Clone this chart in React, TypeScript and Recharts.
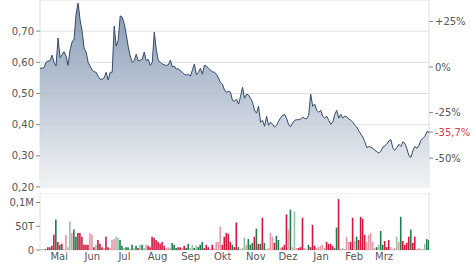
import React from 'react';
import { AreaChart, Area, BarChart, Bar, Cell, XAxis, YAxis, CartesianGrid } from 'recharts';

// ---- data ----
const monthLabels = ['Mai', 'Jun', 'Jul', 'Aug', 'Sep', 'Okt', 'Nov', 'Dez', 'Jan', 'Feb', 'Mrz'];
// days after series start (27 Apr) of the 15th of each month
const monthLabelDays = [18, 49, 79, 110, 141, 171, 202, 232, 263, 294, 322];
// days after series start of the 1st of each month
const monthStartDays = [35, 65, 96, 127, 157, 188, 218, 249, 280, 308, 339];
const spanDays = 364;

const basePrice = 0.585;
const priceTicks = [0.2, 0.3, 0.4, 0.5, 0.6, 0.7];
const volumeTicks = [0, 50, 100]; // thousands

const prices = [
  0.581, 0.581, 0.583, 0.600, 0.604, 0.605, 0.623, 0.600, 0.588, 0.678,
  0.615, 0.625, 0.634, 0.620, 0.590, 0.640, 0.665, 0.675, 0.755, 0.790,
  0.736, 0.700, 0.645, 0.633, 0.600, 0.588, 0.575, 0.570, 0.568, 0.555,
  0.546, 0.546, 0.550, 0.568, 0.543, 0.568, 0.568, 0.716, 0.652, 0.671,
  0.749, 0.745, 0.725, 0.690, 0.650, 0.620, 0.600, 0.605, 0.626, 0.604,
  0.607, 0.610, 0.633, 0.605, 0.610, 0.590, 0.600, 0.697, 0.640, 0.605,
  0.600, 0.595, 0.592, 0.590, 0.592, 0.607, 0.585, 0.588, 0.578, 0.580,
  0.572, 0.568, 0.562, 0.559, 0.562, 0.556, 0.575, 0.595, 0.560, 0.568,
  0.581, 0.562, 0.591, 0.588, 0.581, 0.575, 0.570, 0.568, 0.562, 0.550,
  0.535, 0.530, 0.511, 0.504, 0.507, 0.504, 0.478, 0.475, 0.482, 0.466,
  0.490, 0.520, 0.485, 0.498, 0.495, 0.485, 0.472, 0.446, 0.437, 0.459,
  0.408, 0.414, 0.395, 0.427, 0.398, 0.408, 0.401, 0.392, 0.398, 0.411,
  0.422, 0.430, 0.433, 0.420, 0.400, 0.394, 0.405, 0.414, 0.416, 0.416,
  0.418, 0.424, 0.420, 0.419, 0.430, 0.498, 0.459, 0.466, 0.446, 0.440,
  0.446, 0.427, 0.421, 0.427, 0.414, 0.401, 0.408, 0.433, 0.446, 0.421,
  0.433, 0.421, 0.428, 0.425, 0.418, 0.414, 0.408, 0.398, 0.392, 0.380,
  0.370, 0.360, 0.345, 0.326, 0.330, 0.327, 0.324, 0.318, 0.313, 0.309,
  0.315, 0.328, 0.332, 0.338, 0.348, 0.352, 0.324, 0.318, 0.327, 0.337,
  0.330, 0.345, 0.340, 0.322, 0.300, 0.295, 0.318, 0.330, 0.324, 0.334,
  0.350, 0.356, 0.363, 0.378, 0.376,
];

// volume in thousands
const volumes = [
  2, 2, 2, 2, 6, 6, 9, 32, 64, 17,
  11, 13, 2, 32, 6, 60, 36, 43, 28, 36,
  36, 28, 11, 11, 11, 36, 32, 6, 11, 21,
  13, 6, 4, 28, 6, 4, 21, 23, 28, 26,
  21, 9, 4, 6, 6, 2, 11, 4, 9, 4,
  11, 11, 4, 11, 9, 6, 28, 26, 21, 17,
  13, 17, 9, 4, 6, 4, 15, 11, 4, 6,
  6, 4, 9, 4, 13, 4, 11, 4, 9, 6,
  11, 17, 4, 11, 6, 2, 11, 4, 17, 17,
  49, 11, 28, 36, 34, 17, 11, 6, 58, 6,
  2, 4, 26, 11, 23, 11, 15, 28, 45, 13,
  13, 68, 15, 2, 4, 36, 28, 15, 30, 21,
  4, 6, 11, 75, 43, 85, 6, 81, 4, 4,
  6, 68, 4, 2, 11, 6, 53, 9, 4, 6,
  9, 11, 4, 17, 13, 13, 9, 4, 47, 107,
  2, 4, 2, 28, 17, 17, 68, 19, 28, 21,
  70, 66, 32, 17, 32, 36, 17, 4, 6, 11,
  40, 11, 19, 6, 21, 6, 2, 4, 28, 17,
  70, 19, 11, 15, 28, 43, 15, 28, 2, 4,
  2, 2, 13, 23, 21,
];

// r = down, g = up, lr / lg = lighter variants
const volumeKinds = [
  'lg', 'lr', 'lr', 'g', 'r', 'g', 'r', 'r', 'g', 'r',
  'g', 'r', 'lr', 'lr', 'lg', 'lg', 'lr', 'g', 'g', 'r',
  'r', 'r', 'r', 'r', 'r', 'lr', 'lr', 'r', 'lg', 'r',
  'r', 'r', 'lr', 'r', 'r', 'lr', 'lr', 'lr', 'lg', 'lg',
  'g', 'g', 'lg', 'g', 'g', 'lg', 'g', 'lg', 'g', 'r',
  'lg', 'g', 'lg', 'lr', 'r', 'r', 'r', 'r', 'r', 'r',
  'r', 'r', 'r', 'lr', 'lr', 'lg', 'g', 'g', 'g', 'r',
  'r', 'lr', 'r', 'g', 'g', 'lg', 'lg', 'g', 'lg', 'g',
  'g', 'g', 'r', 'r', 'r', 'lr', 'r', 'lr', 'lr', 'lr',
  'lr', 'r', 'r', 'r', 'r', 'r', 'g', 'r', 'r', 'g',
  'lr', 'lg', 'lg', 'lr', 'g', 'g', 'g', 'r', 'g', 'r',
  'g', 'r', 'g', 'lr', 'lr', 'lr', 'lr', 'r', 'g', 'g',
  'lr', 'r', 'r', 'r', 'lr', 'g', 'lr', 'lg', 'lr', 'r',
  'r', 'r', 'lr', 'lg', 'g', 'r', 'r', 'r', 'lr', 'lr',
  'lr', 'lr', 'lr', 'r', 'r', 'r', 'r', 'g', 'g', 'r',
  'lr', 'lg', 'lr', 'lr', 'lr', 'r', 'r', 'lr', 'g', 'r',
  'r', 'r', 'r', 'lr', 'lr', 'lr', 'lr', 'lr', 'g', 'lg',
  'g', 'g', 'r', 'r', 'r', 'lr', 'lr', 'lr', 'lg', 'lr',
  'g', 'r', 'r', 'r', 'r', 'g', 'r', 'r', 'lr', 'lr',
  'lr', 'lg', 'lg', 'g', 'g',
];

// ---- styling ----
const VOL_COLORS: Record<string, string> = {
  r: '#d4163e',
  g: '#1f7d4b',
  lr: '#e697a5',
  lg: '#8fc5a4',
};
const FONT = 'DejaVu Sans';
const TEXT = '#555';
const GRID = '#e0e0e0';
const RED = '#dc3a52';

const N = prices.length;
const data = prices.map((p, i) => ({
  t: (i * spanDays) / (N - 1),
  p,
  v: volumes[i],
  k: volumeKinds[i],
}));

const lastPct = Math.round((prices[N - 1] / basePrice - 1) * 1000) / 10;
const pctTicks = [25, 0, -25, lastPct, -50];
const pctDomain = [
  (priceTicks[0] / basePrice - 1) * 100,
  ((priceTicks[0] + 0.6) / basePrice - 1) * 100,
];
const gridXTicks = [0, ...monthStartDays, spanDays];

const tickStyle = { fontSize: 10, fontFamily: FONT, fill: TEXT };

const PctTick = (props: any) => {
  const { x, y, payload } = props;
  const v = payload.value as number;
  const cur = Math.abs(v - lastPct) < 1e-9;
  const label = (v > 0 ? '+' : '') + String(v).replace('.', ',') + '%';
  return (
    <text x={x} y={y} dy="0.355em" textAnchor="start" fontSize={10} fontFamily={FONT} fill={cur ? RED : TEXT}>
      {label}
    </text>
  );
};

const fmtPrice = (v: number) => v.toFixed(2).replace('.', ',');
const fmtVol = (v: number) => (v === 0 ? '0' : v >= 100 ? String(v / 1000).replace('.', ',') + 'M' : v + 'T');
const fmtMonth = (d: number) => monthLabels[monthLabelDays.indexOf(d)] ?? '';

export default function App() {
  return (
    <div style={{ position: 'absolute', left: 0, top: 0, width: 474, height: 269, background: '#fff' }}>
      <div style={{ position: 'absolute', left: 0, top: 0 }}>
        <AreaChart width={474} height={193} data={data} margin={{ top: 0, right: 0, bottom: 6, left: 0 }}>
          <defs>
            <linearGradient id="priceFill" x1="0" y1="0" x2="0" y2="1">
              <stop offset="0%" stopColor="#738aa8" />
              <stop offset="100%" stopColor="#eef1f4" />
            </linearGradient>
          </defs>
          <CartesianGrid xAxisId="g" yAxisId="left" stroke={GRID} strokeWidth={1} />
          <XAxis
            xAxisId="g"
            dataKey="t"
            type="number"
            domain={[0, spanDays]}
            allowDataOverflow
            ticks={gridXTicks}
            height={0}
            tick={false}
            tickLine={false}
            axisLine={false}
          />
          <YAxis
            yAxisId="left"
            orientation="left"
            width={40}
            type="number"
            domain={[0.2, 0.8]}
            allowDataOverflow
            ticks={priceTicks}
            tickFormatter={fmtPrice}
            tick={tickStyle}
            tickSize={4}
            tickMargin={2}
            tickLine={{ stroke: '#888' }}
            axisLine={false}
          />
          <YAxis
            yAxisId="pct"
            orientation="right"
            width={45}
            type="number"
            domain={pctDomain}
            allowDataOverflow
            ticks={pctTicks}
            tick={<PctTick />}
            tickSize={4}
            tickMargin={2}
            tickLine={{ stroke: '#888' }}
            axisLine={false}
            interval={0}
          />
          <Area
            xAxisId="g"
            yAxisId="left"
            dataKey="p"
            type="linear"
            stroke="#34496a"
            strokeWidth={1}
            fill="url(#priceFill)"
            fillOpacity={0.85}
            isAnimationActive={false}
            dot={false}
            activeDot={false}
          />
        </AreaChart>
      </div>
      <div style={{ position: 'absolute', left: 0, top: 193 }}>
        <BarChart width={474} height={76} data={data} margin={{ top: 0, right: 45, bottom: 0, left: 0 }}>
          <CartesianGrid xAxisId="g" yAxisId="gy" stroke={GRID} strokeWidth={1} />
          <XAxis
            xAxisId="g"
            dataKey="t"
            type="number"
            domain={[0, spanDays]}
            allowDataOverflow
            ticks={gridXTicks}
            height={0}
            tick={false}
            tickLine={false}
            axisLine={false}
          />
          <XAxis
            xAxisId="l"
            dataKey="t"
            type="number"
            domain={[0, spanDays]}
            allowDataOverflow
            ticks={monthLabelDays}
            tickFormatter={fmtMonth}
            interval={0}
            height={19}
            tick={tickStyle}
            tickSize={0}
            tickMargin={3}
            tickLine={false}
            axisLine={false}
          />
          <YAxis
            yAxisId="v"
            orientation="left"
            width={40}
            type="number"
            domain={[0, 120]}
            allowDataOverflow
            ticks={volumeTicks}
            tickFormatter={fmtVol}
            tick={tickStyle}
            tickSize={4}
            tickMargin={2}
            tickLine={{ stroke: '#888' }}
            axisLine={false}
            interval={0}
          />
          <YAxis
            yAxisId="gy"
            orientation="left"
            width={0}
            type="number"
            domain={[0, 120]}
            allowDataOverflow
            ticks={[...volumeTicks, 120]}
            tick={false}
            tickLine={false}
            axisLine={false}
          />
          <Bar xAxisId="l" yAxisId="v" dataKey="v" barSize={1.6} isAnimationActive={false}>
            {data.map((d, i) => (
              <Cell key={i} fill={VOL_COLORS[d.k]} />
            ))}
          </Bar>
        </BarChart>
      </div>
    </div>
  );
}
